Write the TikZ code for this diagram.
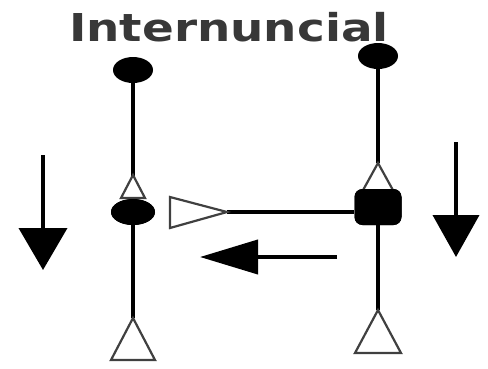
\documentclass[tikz,border=0pt]{standalone}
\usepackage{fontspec}
\setmainfont{DejaVu Sans}
\usetikzlibrary{shapes.geometric,arrows.meta}
\begin{document}
\begin{tikzpicture}[x=1pt,y=-1pt,
  stem/.style={line width=4pt,black},
  knob/.style={ellipse,fill=black,inner sep=0pt,minimum width=40pt,minimum height=26pt},
  soma/.style={fill=black,rounded corners=8pt,inner sep=0pt,minimum width=47pt,minimum height=36pt},
  opentri/.style={draw=black!75,line width=2.2pt,fill=white,line join=miter},
  label/.style={font=\fontsize{38.4pt}{40pt}\selectfont\bfseries,text=black!78,inner sep=0pt,anchor=base,xscale=1.22}
]
\useasboundingbox (0,0) rectangle (488,368);

% title
\node[label] (title) at (229,41) {Internuncial};

% left neuron
\node[knob] (lt) at (133,70) {};
\node[knob,minimum width=44pt] (lm) at (133,212) {};
\coordinate (lb) at (133,318);
\draw[stem] (lt) -- (lm);
\draw[stem] (lm) -- (lb);
\draw[opentri] (133,175) -- (145,198) -- (121,198) -- cycle;
\node[knob,minimum width=44pt] at (lm) {};
\draw[opentri] (lb) -- (155,360) -- (111,360) -- cycle;

% right neuron
\node[knob] (rt) at (378,56) {};
\coordinate (ra) at (378,163);
\node[soma] (rs) at (378,207) {};
\coordinate (rb) at (378,310);
\draw[stem] (rt) -- (ra);
\draw[stem] (rs) -- (rb);
\draw[opentri] (ra) -- (394,192) -- (362,192) -- cycle;
\node[soma] at (rs) {};
\draw[opentri] (rb) -- (401,353) -- (355,353) -- cycle;

% internuncial link
\coordinate (ha) at (227,212);
\draw[line width=3.4pt] (ha) -- (ha -| rs.west);
\draw[opentri] (ha) -- (170,228) -- (170,197) -- cycle;

% direction arrows
\coordinate (h1) at (337,257);
\coordinate (h2) at (200,257);
\draw[line width=4pt,-{Triangle[length=58pt,width=34pt]}] (h1) -- (h2);
\coordinate (d1) at (43,155);
\coordinate (d2) at (43,270);
\draw[line width=4pt,-{Triangle[length=42pt,width=48pt]}] (d1) -- (d2);
\coordinate (e1) at (456,142);
\coordinate (e2) at (456,257);
\draw[line width=4pt,-{Triangle[length=42pt,width=46pt]}] (e1) -- (e2);
\end{tikzpicture}
\end{document}
